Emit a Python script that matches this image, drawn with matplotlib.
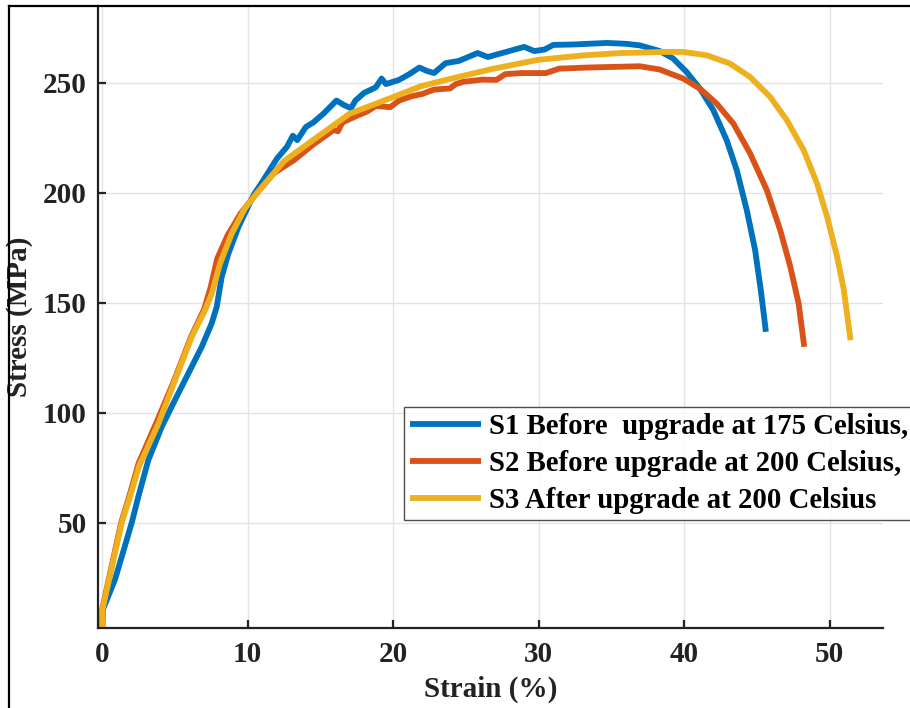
import matplotlib.pyplot as plt
from matplotlib.lines import Line2D

# strain (%) / stress (MPa)
s1_strain = [0, 0.05, 0.88, 2.03, 2.48, 3.17, 4.09, 5.0, 5.92, 6.84, 7.52, 7.87, 8.21, 8.67,
             9.36, 9.9, 10.4, 11.0, 12.0, 12.7, 13.1, 13.4, 14.0, 14.5, 15.2, 15.8, 16.1,
             16.6, 17.1, 17.4, 18.0, 18.8, 19.2, 19.5, 20.4, 21.1, 21.8, 22.3, 22.8, 23.6,
             24.5, 25.8, 26.5, 27.7, 29.0, 29.7, 30.4, 31.0, 32.4, 34.7, 36.0, 36.94, 38.32,
             39.24, 40.16, 41.08, 42.0, 42.92, 43.61, 44.3, 44.87, 45.26, 45.49, 45.61]
s1_stress = [0, 10.6, 24.2, 50, 61.8, 78.5, 93.6, 105.8, 117.9, 130, 140.6, 148.2, 161.8, 172.4,
             184.5, 192, 199, 205, 215.5, 221, 226, 224, 230, 232, 236, 240, 242,
             240, 238.5, 242, 245.5, 248, 252, 249.5, 251.4, 254, 257, 255.5, 254.5, 259,
             260, 263.6, 261.8, 264, 266.4, 264.5, 265.2, 267.3, 267.5, 268.2, 267.8, 267.1, 264.5,
             261.1, 255, 247.4, 237.6, 223.9, 210.3, 192.1, 174, 155.8, 143.6, 136.8]

s2_strain = [0, 0.0, 1.3, 1.85, 2.5, 3.8, 4.95, 6.1, 7.0, 7.45, 7.9, 8.6, 9.5, 10.5, 11.8,
             13.2, 14.5, 15.9, 16.2, 16.5, 17.3, 18.2, 18.8, 19.8, 20.4, 21.3, 22.0, 22.8,
             23.9, 24.3, 24.8, 26.1, 27.1, 27.7, 28.8, 30.5, 31.4, 33.3, 36.94, 38.32, 39.93,
             41.08, 42.23, 43.38, 44.53, 45.68, 46.6, 47.29, 47.86, 48.25]
s2_stress = [0, 10.6, 50, 61.8, 77, 96.7, 114.8, 134.5, 147, 157, 170, 180.5, 190.5, 199, 209,
             215, 222, 228.6, 228, 232, 234.5, 237, 239.5, 239, 242, 244, 245, 247,
             247.5, 249.5, 250.5, 251.5, 251.4, 254, 254.5, 254.5, 256.5, 257, 257.6, 256.1, 252,
             247.4, 240.6, 231.5, 217.9, 201.2, 183, 166.4, 149.7, 130]

s3_strain = [0, 0.02, 1.34, 1.91, 2.55, 3.86, 5.0, 6.15, 7.07, 7.53, 8.1, 8.9, 9.81, 10.9,
             12.5, 14.8, 17.0, 20.0, 21.9, 24.0, 26.9, 29.95, 33.0, 35.6, 36.94, 38.32, 39.93,
             41.54, 43.15, 44.53, 45.91, 47.06, 48.21, 49.13, 49.82, 50.51, 50.97, 51.43]
s3_stress = [0, 10.6, 50, 61.8, 76, 95, 114.8, 134.5, 146.7, 154.2, 167.9, 181.5, 193, 202,
             214.5, 225.5, 236, 243.6, 248.5, 252, 256.5, 260.5, 262.5, 263.6, 263.8, 264.1, 264.1,
             262.6, 258.8, 252.7, 243.6, 233, 219.4, 204.2, 189.1, 170.9, 155.8, 133]

labels = ["S1 Before  upgrade at 175 Celsius,",
          "S2 Before upgrade at 200 Celsius,",
          "S3 After upgrade at 200 Celsius"]
colors = ["#0072BD", "#D95319", "#EDB120"]

plt.rcParams['font.family'] = ['Liberation Serif', 'DejaVu Serif']
plt.rcParams['font.weight'] = 'bold'

W, H = 910, 708
fig = plt.figure(figsize=(W / 100, H / 100), dpi=100)
ax = fig.add_axes([98 / W, 1 - 628 / H, (883 - 98) / W, (628 - 6) / H])

for x, y, lab, c in zip([s1_strain, s2_strain, s3_strain],
                        [s1_stress, s2_stress, s3_stress], labels, colors):
    ax.plot(x, y, color=c, linewidth=4.2, label=lab, solid_capstyle='butt',
            solid_joinstyle='round')

ax.set_xlim(-0.29, 53.66)
ax.set_ylim(2.1, 285)
ax.set_xticks([0, 10, 20, 30, 40, 50])
ax.set_yticks([50, 100, 150, 200, 250])
ax.grid(True, color='#e3e3e3', linewidth=1)
ax.set_axisbelow(True)

ax.spines['top'].set_visible(False)
ax.spines['right'].set_visible(False)
for side in ['left', 'bottom']:
    ax.spines[side].set_linewidth(1.6)
    ax.spines[side].set_color('#222222')
ax.tick_params(direction='in', length=6, width=1.6, labelsize=21, colors='#222222')
ax.tick_params(axis='x', pad=9)
ax.tick_params(axis='y', pad=8)

ax.set_xlabel("Strain (%)", fontsize=21, fontweight='bold', color='#222222')
ax.set_ylabel("Stress (MPa)", fontsize=21, fontweight='bold', color='#222222')
ax.xaxis.set_label_coords(0.5, -0.077)
ax.yaxis.set_label_coords(-0.083, 0.5)

leg = ax.legend(loc='upper left', bbox_to_anchor=(404 / W, 1 - 407 / H),
                bbox_transform=fig.transFigure, fontsize=20.7, frameon=True,
                fancybox=False, edgecolor='#222222', handlelength=2.45,
                handletextpad=0.28, borderpad=0.22, labelspacing=0.34, borderaxespad=0)
leg.get_frame().set_linewidth(1.0)

# outer border of the original figure (left and top edges visible)
fig.add_artist(Line2D([9 / W, 9 / W], [0, 1 - 6 / H], color='black', linewidth=1.6,
                      transform=fig.transFigure))
fig.add_artist(Line2D([9 / W, 1], [1 - 6 / H, 1 - 6 / H], color='black', linewidth=1.6,
                      transform=fig.transFigure))

fig.savefig("out.png", dpi=100)
